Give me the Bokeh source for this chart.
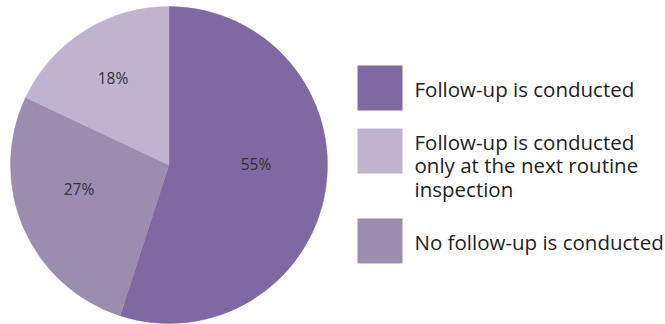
import math
from bokeh.plotting import figure
from bokeh.models import Range1d
from bokeh.core.properties import value
from bokeh.embed import file_html
from bokeh.resources import INLINE

categories = ["Follow-up is conducted",
              "Follow-up is conducted only at the next routine inspection",
              "No follow-up is conducted"]
legend_lines = [["Follow-up is conducted"],
                ["Follow-up is conducted", "only at the next routine", "inspection"],
                ["No follow-up is conducted"]]
shares = [55, 18, 27]
labels = ["55%", "18%", "27%"]
colors = ["#7f69a3", "#bfb3cf", "#9a8daf"]
# order of slices clockwise from top
pie_order = [0, 2, 1]

W, H = 665, 324
p = figure(width=W, height=H, output_backend="svg", toolbar_location=None,
           x_range=Range1d(0, W), y_range=Range1d(0, H), min_border=0)
p.axis.visible = False
p.grid.visible = False
p.outline_line_color = None
p.background_fill_color = "white"
p.border_fill_color = "white"

cx, cy, r = 168.5, H - 164.5, 158.5
total = sum(shares)
cum = 0.0
starts, ends, cols = [], [], []
for i in pie_order:
    a0 = math.pi / 2 - cum / total * 2 * math.pi
    cum += shares[i]
    a1 = math.pi / 2 - cum / total * 2 * math.pi
    starts.append(a0); ends.append(a1); cols.append(colors[i])
p.wedge(x=[cx] * 3, y=[cy] * 3, radius=r, start_angle=starts, end_angle=ends,
        direction="clock", fill_color=cols, line_color=cols, line_width=0.5)

# percentage labels (offsets from centre in pixels, y down)
label_off = {0: (87, -1.5), 1: (-56, -87.5), 2: (-90, 24)}
lx = [cx + label_off[i][0] for i in range(3)]
ly = [cy - label_off[i][1] for i in range(3)]
p.text(x=lx, y=ly, text=labels, text_font=value("Open Sans"),
       text_font_size="15.5px", text_color="#333333", text_align="center",
       text_baseline="middle")

# legend
sq_top = [65, 128, 218]
sq_size = 45
sq_x = 357
text_y = [[88], [141, 164.5, 188], [241]]
for k in range(3):
    p.rect(x=[sq_x + sq_size / 2], y=[H - (sq_top[k] + sq_size / 2)],
           width=sq_size, height=sq_size, fill_color=colors[k], line_color=None)
    p.text(x=[414] * len(legend_lines[k]), y=[H - t for t in text_y[k]],
           text=legend_lines[k], text_font=value("Open Sans"),
           text_font_size="20.5px", text_color="#222222",
           text_align="left", text_baseline="middle")

open("out.html", "w").write(file_html(p, INLINE))
